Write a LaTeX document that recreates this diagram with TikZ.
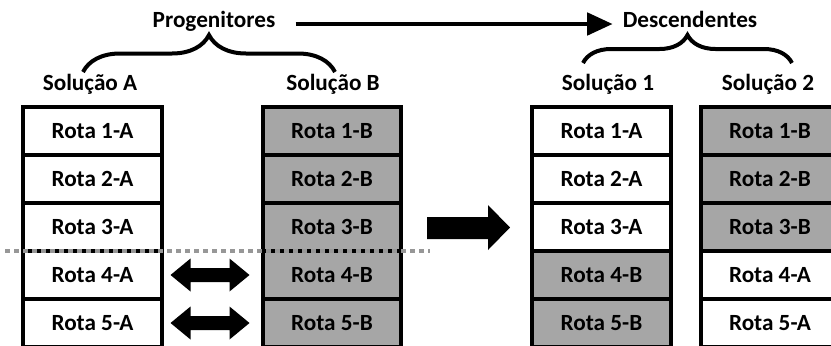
\documentclass[tikz,border=0pt]{standalone}
\usepackage{fontspec}
\setmainfont{Carlito}
\usetikzlibrary{arrows.meta,calc,decorations.pathreplacing}

\definecolor{cinza}{HTML}{A6A6A6}
\definecolor{pontos}{HTML}{979797}

\tikzset{
  rota/.style={draw,line width=1mm,minimum width=3.45cm,minimum height=1.2cm,
    inner sep=0pt,font=\fontsize{16.5}{19}\selectfont\bfseries},
  titulo/.style={font=\fontsize{16.5}{19}\selectfont\bfseries,
    text height=.7em,text depth=.2em,inner sep=0pt},
  chave/.style={line width=1mm,decorate,decoration={brace,amplitude=#1}}
}

\begin{document}
\begin{tikzpicture}[x=0.025cm,y=-0.025cm]
      \useasboundingbox (0,0) rectangle (831,345);

      % titulos
      \node[titulo] (prog) at (214,24) {Progenitores};
      \node[titulo] (desc) at (690,24) {Descendentes};
      \draw[line width=2.4pt,-{Triangle[length=18pt,width=16pt]},
        shorten <=0.5cm,shorten >=0.25cm] (prog) -- (desc);

      \node[titulo] (solA) at (90,87) {Solução A};
      \node[titulo] (solB) at (333,87) {Solução B};
      \node[titulo] (sol1) at (608,87) {Solução 1};
      \node[titulo] (sol2) at (768,87) {Solução 2};

      \draw[chave=0.925cm] (83,72) -- (335,72);
      \draw[chave=0.7cm] (583,63) -- (792,63);

      % progenitores
      \foreach \i in {1,...,5} {
        \node[rota] (a\i) at (92.5,{83+48*\i}) {Rota \i-A};
        \node[rota,fill=cinza] (b\i) at (332,{83+48*\i}) {Rota \i-B};
      }

      % descendentes
      \foreach \i in {1,2,3} {
        \node[rota] (c\i) at (601.5,{83+48*\i}) {Rota \i-A};
        \node[rota,fill=cinza] (d\i) at (770,{83+48*\i}) {Rota \i-B};
      }
      \foreach \i in {4,5} {
        \node[rota,fill=cinza] (c\i) at (601.5,{83+48*\i}) {Rota \i-B};
        \node[rota] (d\i) at (770,{83+48*\i}) {Rota \i-A};
      }

      % ponto de corte
      \draw[pontos,line width=0.1cm,dash pattern=on 0.125cm off 0.1cm] (5,251) -- (430,251);

      \fill (427,217) -- (488,217) -- (488,205) -- (510,227.5) -- (488,250) -- (488,239) -- (427,239) -- cycle;

      \foreach \i in {4,5}
        \fill ($(a\i.east)+(7,0)$) -- ++(20,-16.5) -- ++(0,9.5) -- ++(39,0) -- ++(0,-9.5)
          -- ++(20,16.5) -- ++(-20,16.5) -- ++(0,-9.5) -- ++(-39,0) -- ++(0,9.5) -- cycle;
    \end{tikzpicture}
\end{document}
